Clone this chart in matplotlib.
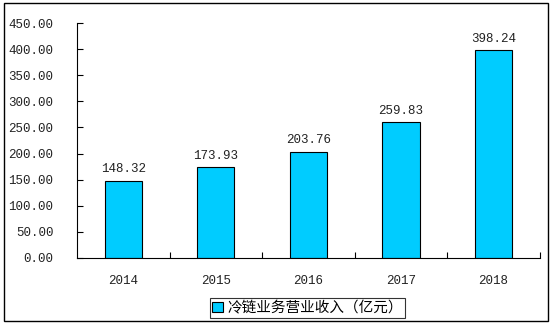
import matplotlib.pyplot as plt
from matplotlib.patches import Rectangle
import numpy as np

years = ['2014', '2015', '2016', '2017', '2018']
revenue = [148.32, 173.93, 203.76, 259.83, 398.24]
y_ticks = [0, 50, 100, 150, 200, 250, 300, 350, 400, 450]
series_name = '冷链业务营业收入（亿元）'

plt.rcParams['font.family'] = ['Noto Sans CJK SC', 'DejaVu Sans']
num_font = 'Liberation Mono'

fig = plt.figure(figsize=(5.52, 3.26), dpi=100)
ax = fig.add_axes([0.1395, 0.2086, 0.8385, 0.7208])

x = np.arange(len(years))
bars = ax.bar(x, revenue, width=0.4, color='#00CCFF', edgecolor='black',
              linewidth=0.8, label=series_name)

for xi, v in zip(x, revenue):
    ax.text(xi, v + 10, '%.2f' % v, ha='center', va='bottom',
            fontsize=9, family=num_font, color='#222222')

ax.set_xlim(-0.5, len(years) - 0.5)
ax.set_ylim(0, 450)
ax.set_yticks(y_ticks)
ax.set_yticklabels(['%.2f' % t for t in y_ticks], family=num_font,
                   fontsize=9, color='#222222')
ax.set_xticks(x)
ax.set_xticklabels(years, family=num_font, fontsize=9, color='#222222')
ax.set_xticks(np.arange(len(years)) + 0.5, minor=True)
ax.tick_params(axis='x', which='major', length=0, pad=12)
ax.tick_params(axis='x', which='minor', direction='in', length=4, width=0.8)
ax.tick_params(axis='y', direction='in', length=4, width=0.8, pad=17)

ax.spines['top'].set_visible(False)
ax.spines['right'].set_visible(False)
ax.spines['left'].set_linewidth(0.8)
ax.spines['bottom'].set_linewidth(0.8)

leg = fig.legend(handles=[bars], labels=[series_name], loc='center',
                 bbox_to_anchor=(0.557, 0.055), fontsize=10.5, frameon=True,
                 fancybox=False, edgecolor='black', handlelength=0.7,
                 handleheight=0.7, handletextpad=0.3, borderpad=0.2,
                 borderaxespad=0)
leg.get_frame().set_linewidth(0.8)

fig.patches.append(Rectangle((0.00725, 0.0153), 0.9855, 0.9755,
                             transform=fig.transFigure, fill=False,
                             edgecolor='black', linewidth=1.0))

fig.savefig('out.png', dpi=100)
